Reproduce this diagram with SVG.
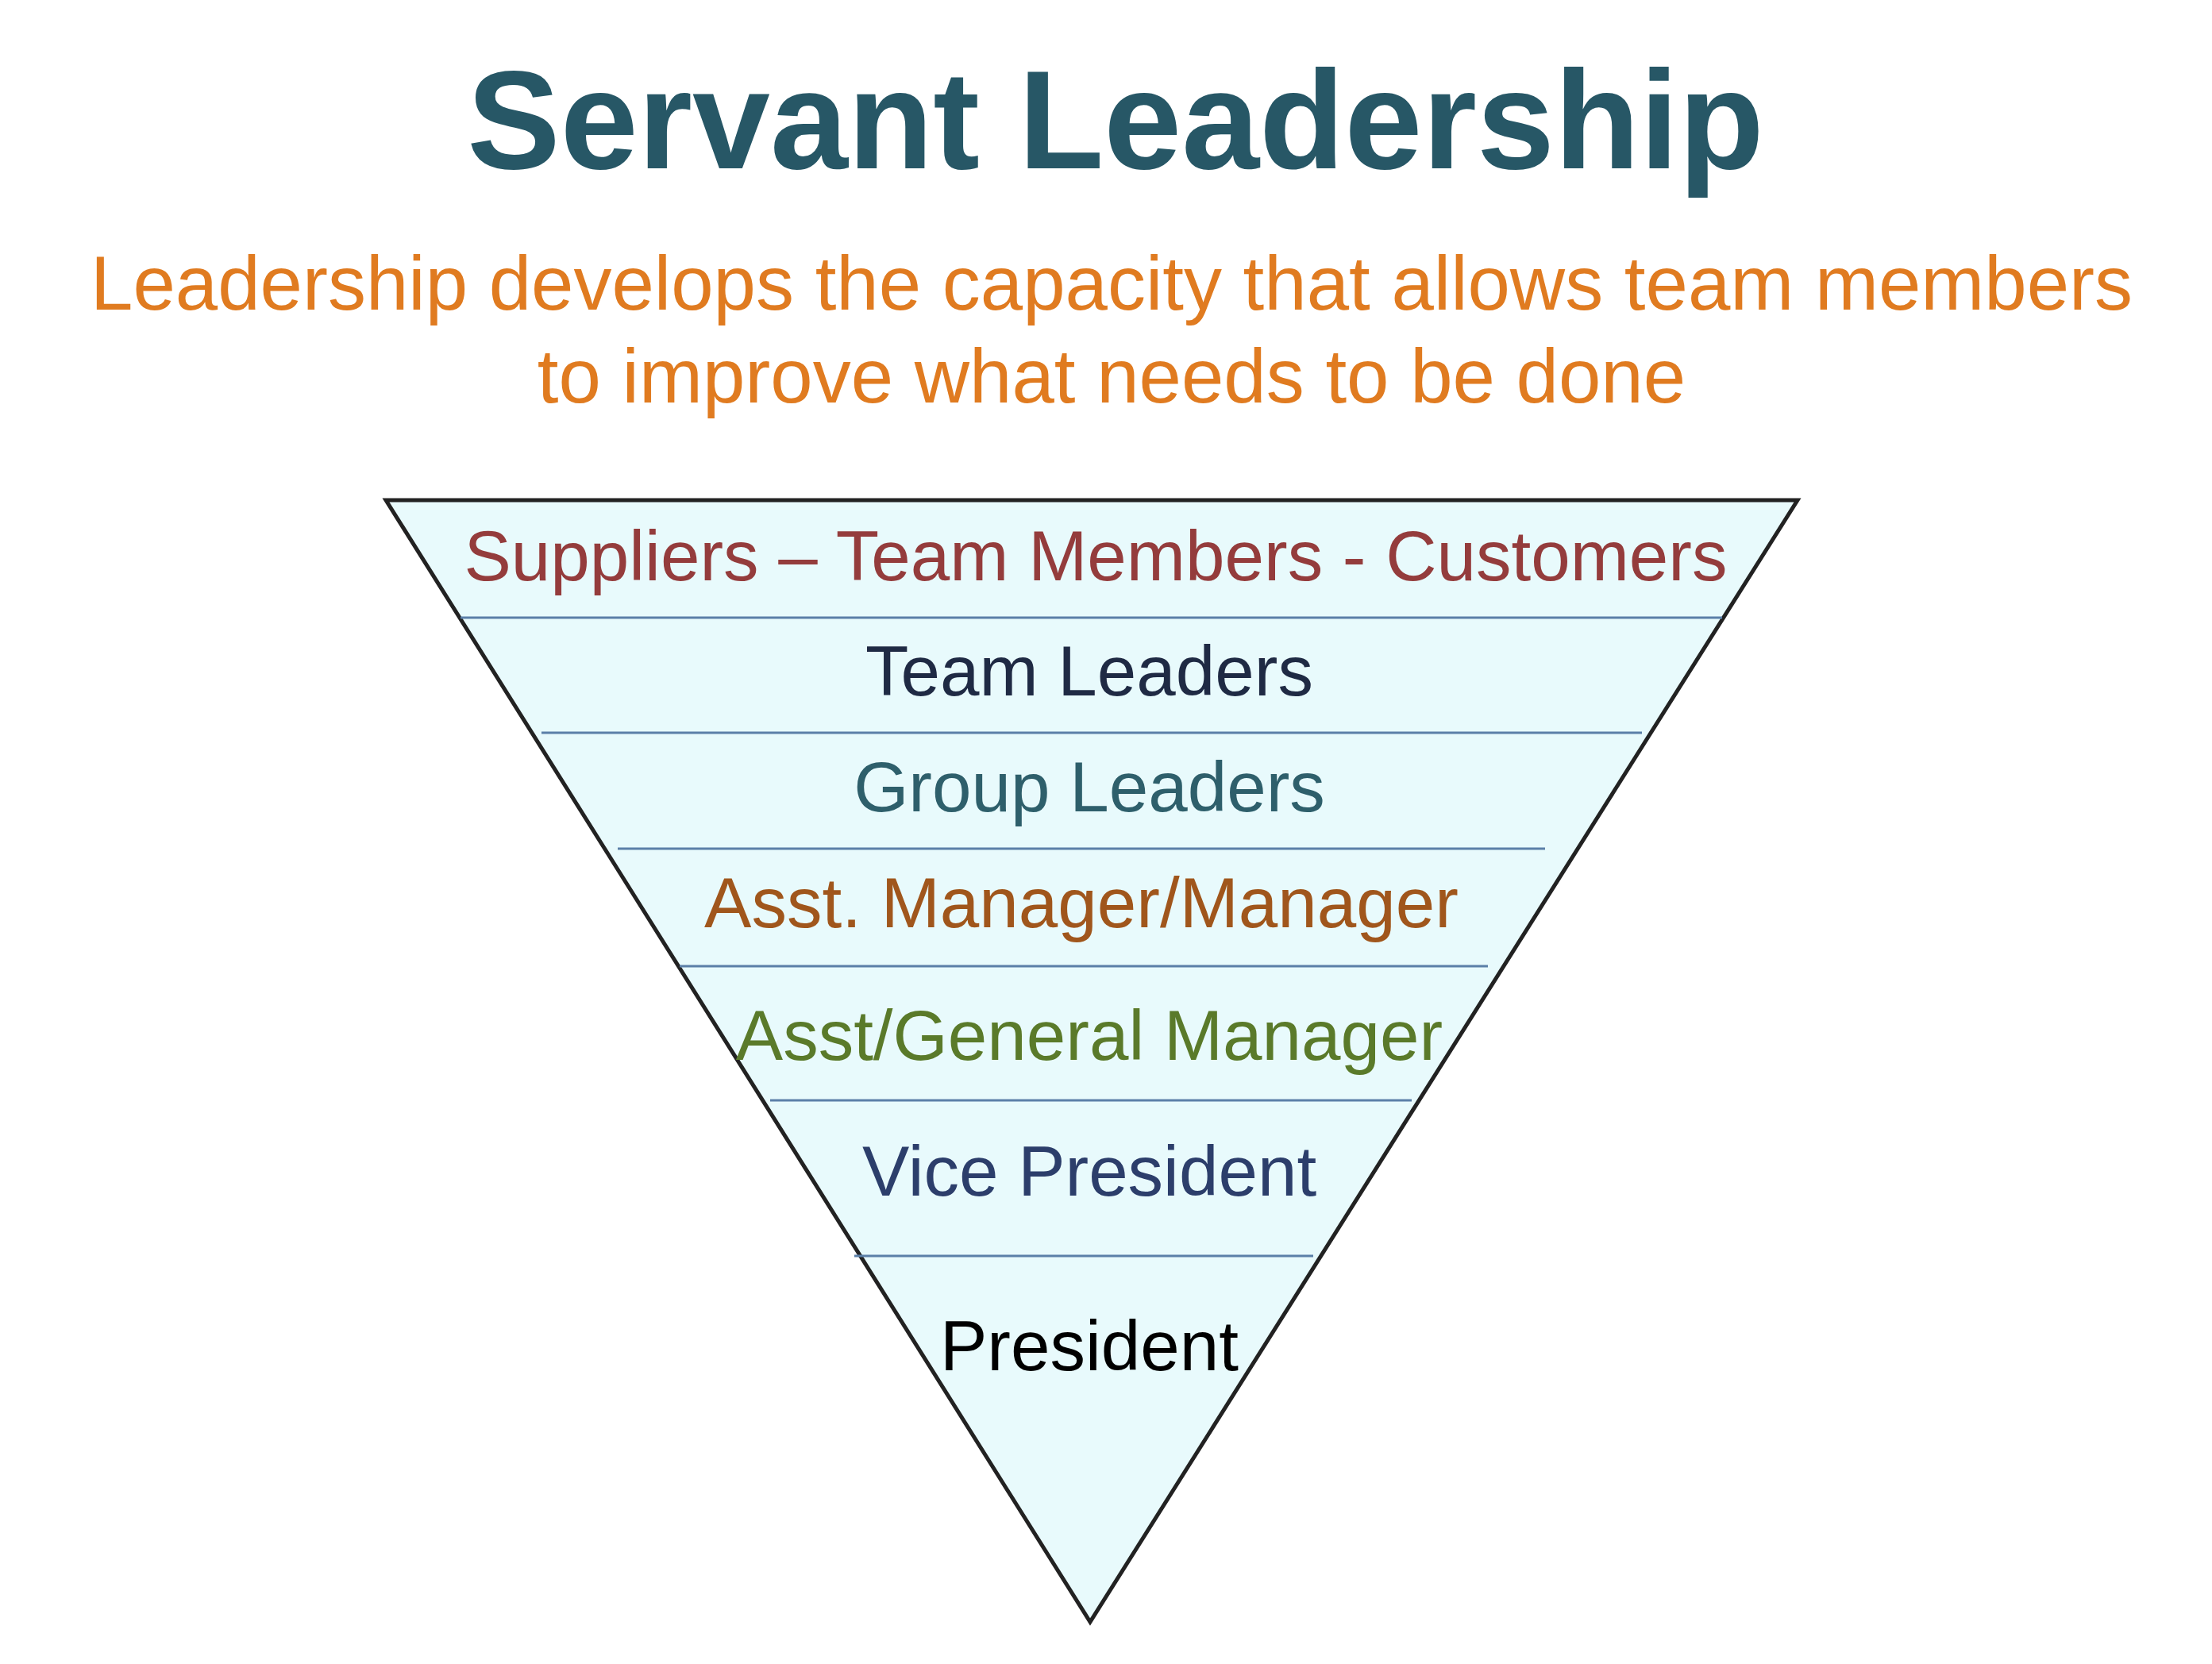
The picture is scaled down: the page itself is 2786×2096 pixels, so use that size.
<svg xmlns="http://www.w3.org/2000/svg" width="2786" height="2096" viewBox="0 0 2786 2096">
<style>
text{font-family:"Liberation Sans",Arial,sans-serif;text-anchor:middle}
.l{font-size:89px}
.sep{stroke:#5b7fa8;stroke-width:3}
</style>
<rect width="2786" height="2096" fill="#fff"/>
<text x="1405" y="212" font-size="176" font-weight="bold" fill="#275766">Servant Leadership</text>
<text x="1400" y="390" font-size="96" fill="#e07b20">Leadership develops the capacity that allows team members</text>
<text x="1400" y="507" font-size="96" fill="#e07b20">to improve what needs to be done</text>
<g id="pyramid">
<polygon points="486,630 2264,630 1373,2043" fill="#e8fafc" stroke="#222" stroke-width="5"/>
</g>
<g id="connectors">
<line class="sep" x1="580" y1="778" x2="2169" y2="778"/>
<line class="sep" x1="682" y1="923" x2="2068" y2="923"/>
<line class="sep" x1="778" y1="1069" x2="1946" y2="1069"/>
<line class="sep" x1="856" y1="1217" x2="1874" y2="1217"/>
<line class="sep" x1="970" y1="1386" x2="1778" y2="1386"/>
<line class="sep" x1="1076" y1="1582" x2="1654" y2="1582"/>
</g>
<g id="n1"><text class="l" x="1380" y="731" fill="#943c3c">Suppliers – Team Members - Customers</text></g>
<g id="n2"><text class="l" x="1372" y="876" fill="#1f2a44">Team Leaders</text></g>
<g id="n3"><text class="l" x="1372" y="1022" fill="#2e5f6b">Group Leaders</text></g>
<g id="n4"><text class="l" x="1362" y="1168" fill="#a0561c">Asst. Manager/Manager</text></g>
<g id="n5"><text class="l" x="1372" y="1335" fill="#5a7a2a">Asst/General Manager</text></g>
<g id="n6"><text class="l" x="1372" y="1506" fill="#2c3e6b">Vice President</text></g>
<g id="n7"><text class="l" x="1372" y="1726" fill="#000">President</text></g>
</svg>
